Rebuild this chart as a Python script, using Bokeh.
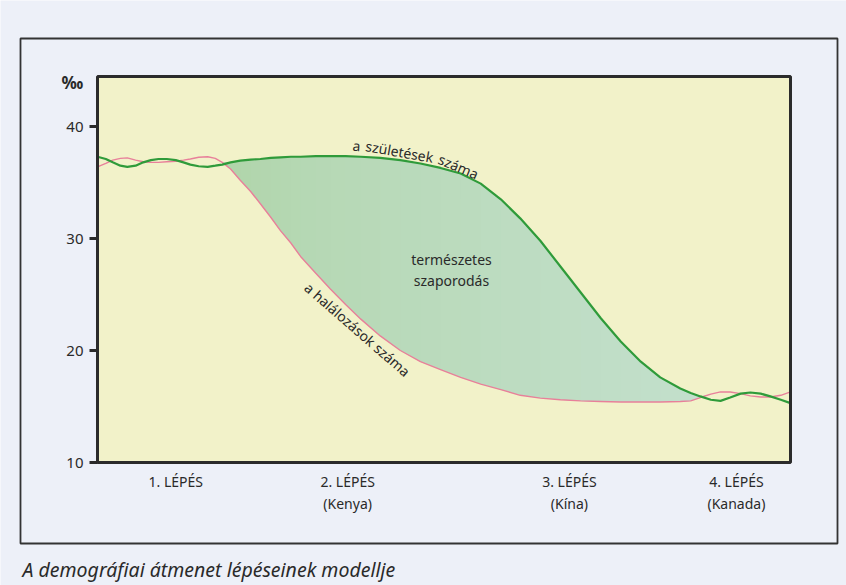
import numpy as np
from bokeh.plotting import figure
from bokeh.models import Label, BoxAnnotation, FixedTicker, Range1d
from bokeh.embed import file_html
from bokeh.resources import INLINE

# ---- data -------------------------------------------------------------
stage_pos = [11.3, 36.1, 68.1, 92.2]
stage_labels = ["1. LÉPÉS", "2. LÉPÉS\n(Kenya)", "3. LÉPÉS\n(Kína)", "4. LÉPÉS\n(Kanada)"]
y_ticks = [10, 20, 30, 40]

time = [0.0, 1.2, 2.2, 3.3, 4.3, 5.5, 6.6, 7.7, 8.8, 10.0, 11.3, 12.4, 13.4, 14.6,
        15.9, 17.0, 18.0, 19.2, 20.6, 22.1, 23.5, 25.0, 26.4, 27.9, 29.3, 31.5,
        33.6, 35.8, 38.0, 40.8, 43.7, 46.6, 49.5, 52.4, 55.3, 58.2, 61.0, 63.9,
        66.8, 69.7, 72.6, 75.5, 78.4, 81.2, 84.1, 85.6, 87.0, 88.5, 89.9, 91.3,
        92.8, 94.2, 95.7, 97.1, 98.6, 100.0]

birth = [37.3, 37.1, 36.8, 36.5, 36.4, 36.5, 36.8, 37.0, 37.1, 37.1, 37.0, 36.8, 36.6, 36.45,
         36.4, 36.5, 36.6, 36.8, 36.95, 37.05, 37.1, 37.2, 37.25, 37.3, 37.3, 37.35,
         37.35, 37.35, 37.3, 37.2, 37.0, 36.7, 36.3, 35.8, 34.9, 33.5, 31.8, 29.8,
         27.5, 25.2, 22.9, 20.8, 19.0, 17.6, 16.6, 16.2, 15.9, 15.6, 15.5, 15.8,
         16.15, 16.25, 16.15, 15.9, 15.6, 15.3]

death = [36.4, 36.7, 37.0, 37.15, 37.2, 37.0, 36.85, 36.8, 36.8, 36.85, 36.9, 37.0, 37.1, 37.25,
         37.3, 37.15, 36.8, 36.2, 35.2, 34.2, 33.1, 31.9, 30.7, 29.6, 28.4, 26.9,
         25.5, 24.1, 22.8, 21.3, 20.0, 19.0, 18.3, 17.6, 17.0, 16.5, 16.0, 15.75,
         15.6, 15.5, 15.45, 15.4, 15.4, 15.4, 15.45, 15.5, 15.8, 16.1, 16.3, 16.3,
         16.15, 15.95, 15.85, 15.85, 16.0, 16.3]

# ---- layout helpers (page pixel -> data coordinates) -------------------
FRAME_L, FRAME_R, FRAME_T, FRAME_B = 97, 790, 76, 462
def fx(px):
    return (px - FRAME_L) / (FRAME_R - FRAME_L) * 100.0
def fy(py):
    return 10 + (FRAME_B - py) / 11.2

FONT = "Noto Sans"
TXT = "#2a2a2a"
W, H = 846, 585

p = figure(width=W, height=H, output_backend="svg", toolbar_location=None,
           x_range=Range1d(fx(0), fx(W)), y_range=Range1d(fy(H), fy(0)),
           min_border=0, min_border_left=0, min_border_right=0,
           min_border_top=0, min_border_bottom=0)
p.background_fill_color = "#edf0f8"
p.border_fill_color = "#edf0f8"
p.outline_line_color = None
p.grid.visible = False

# outer frame of the figure block
p.add_layout(BoxAnnotation(left=fx(20), right=fx(837), top=fy(38), bottom=fy(543),
                           fill_alpha=0, line_color="#333333", line_alpha=1, line_width=1.8))
# chart area background
p.add_layout(BoxAnnotation(left=time[0], right=time[-1], bottom=y_ticks[0], top=fy(FRAME_T),
                           fill_color="#f2f2c9", fill_alpha=1, line_color=None,
                           level="underlay"))

# axes fixed at the chart area edges
p.yaxis.fixed_location = time[0]
p.yaxis.ticker = FixedTicker(ticks=y_ticks)
p.yaxis.axis_line_color = None
p.yaxis.major_tick_in = 0
p.yaxis.major_tick_out = 8
p.yaxis.major_tick_line_width = 3
p.yaxis.major_tick_line_color = TXT
p.yaxis.minor_tick_line_color = None
p.yaxis.major_label_text_font = FONT
p.yaxis.major_label_text_font_size = "15px"
p.yaxis.major_label_text_color = TXT
p.yaxis.major_label_standoff = 6

p.xaxis.fixed_location = y_ticks[0]
p.xaxis.ticker = FixedTicker(ticks=stage_pos)
p.xaxis.major_label_overrides = {pos: lab for pos, lab in zip(stage_pos, stage_labels)}
p.xaxis.axis_line_color = None
p.xaxis.major_tick_line_color = None
p.xaxis.minor_tick_line_color = None
p.xaxis.major_label_text_font = FONT
p.xaxis.major_label_text_font_size = "14px"
p.xaxis.major_label_text_color = TXT
p.xaxis.major_label_standoff = 3

# natural increase fill (largest region where birth > death), soft gradient
t = np.array(time); b = np.array(birth); d = np.array(death)
pos = b > d
best, best_rng, start = -1, (0, 0), None
for i, v in enumerate(list(pos) + [False]):
    if v and start is None:
        start = i
    if not v and start is not None:
        s = (b[start:i] - d[start:i]).sum()
        if s > best:
            best, best_rng = s, (start, i)
        start = None
i0, i1 = max(best_rng[0] - 1, 0), min(best_rng[1] + 1, len(t))
xs, lo, hi = t[i0:i1], d[i0:i1], np.maximum(b, d)[i0:i1]
c_left, c_right = np.array([176, 213, 170]), np.array([196, 224, 206])
n = len(xs)
for k in range(n - 1):
    f = k / max(n - 2, 1)
    r, g, bb = (c_left + (c_right - c_left) * f).round().astype(int)
    col = "#%02x%02x%02x" % (r, g, bb)
    p.varea(x=xs[k:k + 3], y1=lo[k:k + 3], y2=hi[k:k + 3], fill_color=col)

p.line(time, death, line_color="#e8809a", line_width=1.4)
p.line(time, birth, line_color="#2f9b3a", line_width=2.2)

# chart area border on top
p.add_layout(BoxAnnotation(left=time[0], right=time[-1], bottom=y_ticks[0], top=fy(FRAME_T),
                           fill_alpha=0, line_color="#2b2b2b", line_alpha=1, line_width=3))

def lab(text, px, py, size="14px", angle=0, align="center", baseline="middle", style="normal"):
    p.add_layout(Label(x=fx(px), y=fy(py), text=text, angle=angle, angle_units="deg",
                       text_align=align, text_baseline=baseline, text_font=FONT,
                       text_font_size=size, text_color=TXT, text_font_style=style))

lab("a", 356, 145, angle=-4)
lab("születések", 399, 151, angle=-10)
lab("száma", 458, 166, angle=-23)
lab("a halálozások száma", 357, 329, angle=-41)
lab("természetes", 451, 259)
lab("szaporodás", 451, 280)
lab("‰", 72, 82, size="17px", style="bold")
lab("A demográfiai átmenet lépéseinek modellje", 22, 569, size="19.5px",
    align="left", baseline="middle", style="italic")

open("out.html", "w").write(file_html(p, INLINE))
